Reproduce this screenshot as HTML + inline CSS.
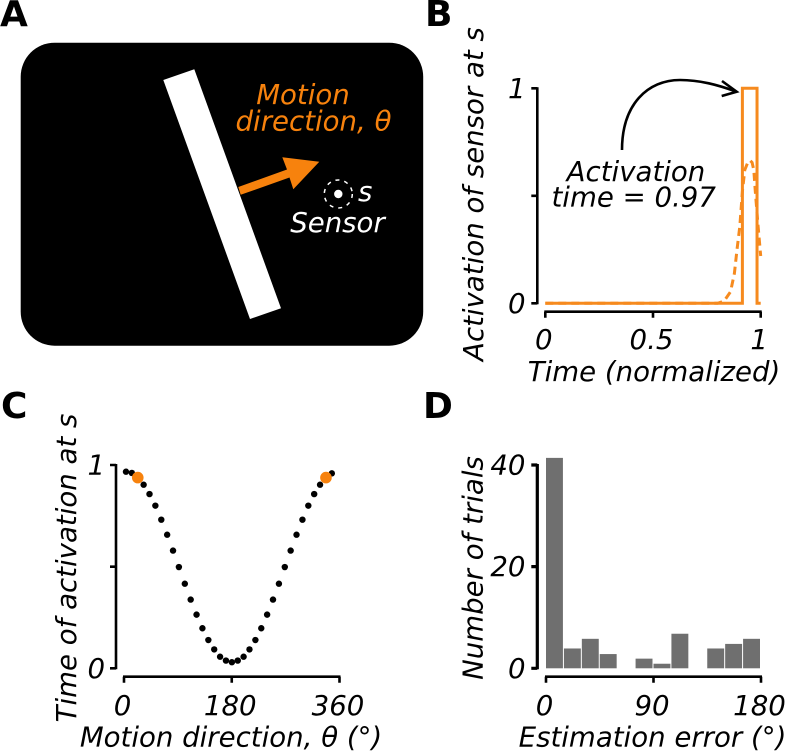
<!DOCTYPE html>
<html>
<head>
<meta charset="utf-8">
<style>
html,body{margin:0;padding:0;background:#fff;}
svg{display:block;}
text{font-family:"DejaVu Sans","Liberation Sans",sans-serif;font-style:oblique;font-size:27.6px;fill:#000;}
.panel{font-weight:bold;font-style:normal;font-size:36px;}
</style>
</head>
<body>
<svg id="fig" xmlns="http://www.w3.org/2000/svg" width="800" height="751" viewBox="0 0 800 751">
  <text class="panel" x="0" y="26">A</text>
  <text class="panel" x="425" y="26">B</text>
  <text class="panel" x="1" y="418">C</text>
  <text class="panel" x="423" y="418">D</text>

  <rect x="20.7" y="42.7" width="402.5" height="303" rx="34" ry="34" fill="#000"/>
  <polygon points="163.3,80 194.3,69.3 281,308.3 250,319" fill="#fff"/>
  <polygon points="238.3,187 287,169.5 282.3,157.3 319.3,161.7 293.3,189.3 289.5,177.5 240.7,194.8" fill="#f7820d"/>
  <circle cx="338.3" cy="194" r="4.2" fill="#fff"/>
  <circle cx="338.3" cy="194" r="14" fill="none" stroke="#fff" stroke-width="1.5" stroke-dasharray="4 5"/>
  <text x="303" y="104" text-anchor="middle" style="fill:#f7820d">Motion</text>
  <text x="313.5" y="130.7" text-anchor="middle" style="fill:#f7820d">direction, θ</text>
  <text x="358" y="201" style="fill:#fff">s</text>
  <text x="337.5" y="232" text-anchor="middle" style="fill:#fff">Sensor</text>

  <text transform="translate(483,194) rotate(-90)" text-anchor="middle">Activation of sensor at s</text>
  <text x="654" y="381" text-anchor="middle">Time (normalized)</text>
  <text x="636" y="181" text-anchor="middle">Activation</text>
  <text x="633.7" y="206.7" text-anchor="middle">time = 0.97</text>
  <path d="M622 150 C622 104 648 80 680 80 C700 80 718 85 736 91.5" fill="none" stroke="#000" stroke-width="2.6"/>
  <path d="M722 81 L736.7 91.7 L721.7 96" fill="none" stroke="#000" stroke-width="2.6"/>

  <text transform="translate(76,568) rotate(-90)" text-anchor="middle">Time of activation at s</text>
  <text x="231" y="746.7" text-anchor="middle">Motion direction, θ (°)</text>

  <text transform="translate(482.7,568) rotate(-90)" text-anchor="middle">Number of trials</text>
  <text x="652.5" y="746.7" text-anchor="middle">Estimation error (°)</text>
</svg>

<script>
// Panel B data
const activationTimes = [0, 0.915, 0.915, 0.983, 0.983, 1];
const activationValues = [0, 0, 1, 1, 0, 0];
const smoothTimes = [0, 0.8, 0.83, 0.86, 0.878, 0.89, 0.903, 0.915, 0.926, 0.94, 0.95, 0.96, 0.968, 0.975, 0.988, 1];
const smoothValues = [0, 0, 0.01, 0.054, 0.14, 0.25, 0.357, 0.52, 0.62, 0.655, 0.665, 0.655, 0.62, 0.52, 0.357, 0.22];
const bYTicks = [0, 0.5, 1];
const bYLabels = ['0', '', '1'];
const bXTicks = [0, 0.5, 1];
const bXLabels = ['0', '0.5', '1'];

// Panel C data
const directions = [3.3, 13.1, 23, 32.8, 42.6, 52.4, 62.3, 72.1, 81.9, 91.7, 101.6, 111.4, 121.2, 131, 140.9, 150.7, 160.5, 170.3, 180.2, 190, 199.8, 209.6, 219.5, 229.3, 239.1, 248.9, 258.8, 268.6, 278.4, 288.2, 298.1, 307.9, 317.7, 327.5, 337.4, 347.2];
const activationAtS = [0.967, 0.961, 0.938, 0.903, 0.857, 0.8, 0.731, 0.657, 0.579, 0.498, 0.416, 0.338, 0.264, 0.197, 0.139, 0.093, 0.057, 0.038, 0.03, 0.038, 0.057, 0.093, 0.139, 0.197, 0.264, 0.338, 0.416, 0.498, 0.579, 0.657, 0.731, 0.8, 0.857, 0.903, 0.938, 0.959];
const highlightedPoints = [2, 34];
const cYTicks = [0, 0.5, 1];
const cYLabels = ['0', '', '1'];
const cXTicks = [0, 180, 360];
const cXLabels = ['0', '180', '360'];

// Panel D data
const errorBinStarts = [0, 15, 30, 45, 60, 75, 90, 105, 120, 135, 150, 165];
const trialCounts = [41.4, 3.9, 5.8, 2.8, 0, 1.9, 0.9, 6.8, 0, 3.9, 4.8, 5.8];
const dYTicks = [0, 20, 40];
const dYLabels = ['0', '20', '40'];
const dXTicks = [0, 90, 180];
const dXLabels = ['0', '90', '180'];

const NS = 'http://www.w3.org/2000/svg';
const fig = document.getElementById('fig');
const ORANGE = '#f68a1e';

function mk(tag, attrs, txt) {
  const n = document.createElementNS(NS, tag);
  for (const k in attrs) n.setAttribute(k, attrs[k]);
  if (txt !== undefined) n.textContent = txt;
  fig.appendChild(n);
  return n;
}
function scale(d0, d1, r0, r1) {
  return v => r0 + (v - d0) * (r1 - r0) / (d1 - d0);
}

function drawAxes(prefix, xS, yS, xTicks, xLabels, yTicks, yLabels, axisX, axisY, labelRight, xBase, yWidth) {
  const yPath = yTicks.map(t => 'M' + (axisX - 6) + ' ' + yS(t) + 'H' + axisX).join('') +
    'M' + axisX + ' ' + (yS(yTicks[0]) + 1) + 'V' + (yS(yTicks[yTicks.length - 1]) - 1);
  const ya = mk('path', {d: yPath, fill: 'none', stroke: '#000', 'stroke-width': yWidth});
  
  
  const xPath = xTicks.map(t => 'M' + xS(t) + ' ' + (axisY + 6) + 'V' + axisY).join('') +
    'M' + (xS(xTicks[0]) - 1) + ' ' + axisY + 'H' + (xS(xTicks[xTicks.length - 1]) + 1);
  const xa = mk('path', {d: xPath, fill: 'none', stroke: '#000', 'stroke-width': 2.6});
  
  
  yTicks.forEach((t, i) => {
    if (!yLabels[i]) return;
    const l = mk('text', {x: labelRight, y: yS(t) + 9.5, 'text-anchor': 'end'}, yLabels[i]);
    
    
  });
  xTicks.forEach((t, i) => {
    const l = mk('text', {x: xS(t) - 1.5, y: xBase, 'text-anchor': 'middle'}, xLabels[i]);
    
    
  });
}

// Panel B
const bx = scale(0, 1, 545.3, 760.7);
const by = scale(0, 1, 303.3, 88.3);
drawAxes('b', bx, by, bXTicks, bXLabels, bYTicks, bYLabels, 537.3, 311.7, 525.5, 349, 2.6);
const smooth = mk('polyline', {
  points: smoothTimes.map((t, i) => bx(t) + ',' + by(smoothValues[i])).join(' '),
  fill: 'none', stroke: ORANGE, 'stroke-width': 3, 'stroke-dasharray': '8 5'
});


const step = mk('polyline', {
  points: activationTimes.map((t, i) => bx(t) + ',' + by(activationValues[i])).join(' '),
  fill: 'none', stroke: ORANGE, 'stroke-width': 3
});



// Panel C
const cx = scale(0, 360, 124, 339.5);
const cy = scale(0, 1, 668.3, 465);
drawAxes('c', cx, cy, cXTicks, cXLabels, cYTicks, cYLabels, 116, 676.7, 105, 715, 2.6);
directions.forEach((d, i) => {
  if (highlightedPoints.includes(i)) return;
  const p = mk('circle', {cx: cx(d), cy: cy(activationAtS[i]), r: 3.2, fill: '#000'});
  
  
});
highlightedPoints.forEach(i => {
  const p = mk('circle', {cx: cx(directions[i]), cy: cy(activationAtS[i]), r: 5.8, fill: '#f7820d'});
  
  
});

// Panel D
const dx = scale(0, 180, 546, 761);
const dy = scale(0, 40, 668.3, 465);
drawAxes('d', dx, dy, dXTicks, dXLabels, dYTicks, dYLabels, 537.3, 676.7, 525.5, 715, 3.2);
errorBinStarts.forEach((s, i) => {
  if (trialCounts[i] <= 0) return;
  const x0 = dx(s);
  const x1 = dx(s + 15);
  const b = mk('rect', {x: x0, y: dy(trialCounts[i]), width: x1 - x0 - 1, height: dy(0) - dy(trialCounts[i]), fill: '#6f6f6f'});
  
  
});
</script>
</body>
</html>
